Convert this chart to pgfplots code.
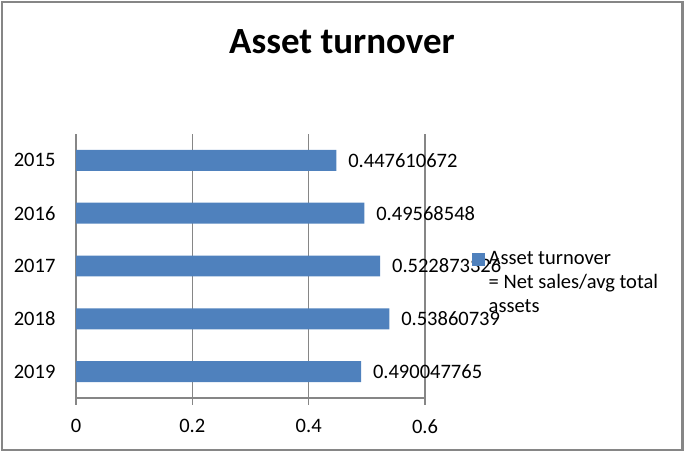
\documentclass[border=0pt]{standalone}
\usepackage{fontspec}
\setmainfont{Carlito}
\usepackage{pgfplots}
\pgfplotsset{compat=1.18}
\definecolor{barblue}{HTML}{4F81BD}
\definecolor{axisgray}{HTML}{868686}
\begin{document}
\begin{tikzpicture}
\useasboundingbox (0,0) rectangle (333.45pt,219.86pt);
\draw[axisgray, line width=1pt] (0.75pt,0.6pt) rectangle (332.7pt,219.1pt);
\begin{axis}[
  at={(37.05pt,25.84pt)}, anchor=south west,
  scale only axis, width=170.14pt, height=128.7pt,
  xbar, bar width=10.2pt,
  xmin=0, xmax=0.6, ymin=-0.5, ymax=4.5, y dir=reverse,
  axis x line*=bottom, axis y line*=left,
  axis line style={axisgray, line width=0.5pt, -},
  xtick={0,0.2,0.4,0.6}, xticklabels={0,0.2,0.4,0.6},
  ytick={0,1,2,3,4}, yticklabels={2015,2016,2017,2018,2019},
  y tick style={draw=none},
  extra y ticks={-0.5,0.5,1.5,2.5,3.5,4.5}, extra y tick labels={},
  extra y tick style={major tick length=2.9pt, tick style={axisgray, line width=0.5pt, draw=axisgray}},
  tick align=outside, major tick length=3.4pt,
  x tick style={axisgray, line width=0.5pt},
  xmajorgrids, grid style={axisgray, line width=0.5pt},
  ticklabel style={font=\fontsize{10}{12}\selectfont, text=black},
  xticklabel style={yshift=-3.6pt},
  yticklabel style={xshift=-3.1pt},
  /pgf/number format/assume math mode=true,
  title={\bfseries Asset turnover},
  title style={at={(0.762,1.258)}, anchor=base, font=\fontsize{18}{21}\selectfont},
  nodes near coords, point meta=explicit symbolic,
  nodes near coords style={font=\fontsize{10}{12}\selectfont, text=black, anchor=west, xshift=2.3pt},
  legend style={draw=none, fill=none, at={(1.115,0.59)}, anchor=north west,
    font=\fontsize{10}{11.7}\selectfont, cells={anchor=west, align=left}},
]
\addplot[fill=barblue, draw=none,
  legend image code/.code={\fill[barblue] (0pt,8.1pt) rectangle (6.3pt,14.4pt);}] coordinates {
  (0.447610672,0) [0.447610672]
  (0.49568548,1) [0.49568548]
  (0.522873326,2) [0.522873326]
  (0.53860739,3) [0.53860739]
  (0.490047765,4) [0.490047765]
};
\addlegendentry{Asset turnover\\= Net sales/avg total\\assets}
\end{axis}
\end{tikzpicture}
\end{document}
